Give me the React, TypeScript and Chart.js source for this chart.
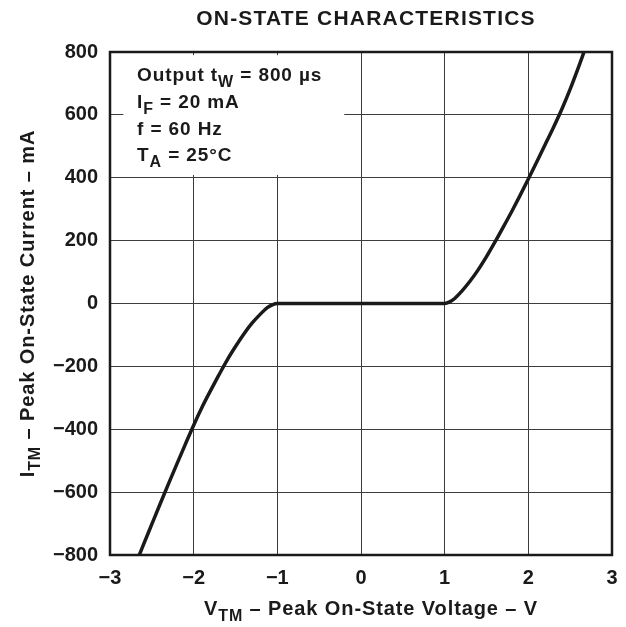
import React, { useEffect, useRef } from "react";
import { Chart, registerables } from "chart.js";

Chart.register(...registerables);

// Reverse-branch (negative) and forward-branch (positive) readings
const VOLTAGE_NEG = [-2.65, -2.6, -2.5, -2.4, -2.3, -2.2, -2.1, -2.0, -1.9, -1.8, -1.7, -1.6, -1.5, -1.4, -1.3, -1.2, -1.12, -1.06, -1.0];
const CURRENT_NEG = [-800, -767, -702, -637, -573, -510, -448, -387, -330, -278, -228, -180, -137, -97, -62, -33, -13, -4, 0];
const VOLTAGE_POS = [1.0, 1.06, 1.12, 1.2, 1.3, 1.4, 1.5, 1.6, 1.7, 1.8, 1.9, 2.0, 2.1, 2.2, 2.3, 2.4, 2.5, 2.6, 2.665];
const CURRENT_POS = [0, 5, 16, 38, 70, 107, 149, 195, 243, 292, 343, 396, 450, 505, 560, 618, 682, 752, 800];

const X_TICKS = [-3, -2, -1, 0, 1, 2, 3];
const Y_TICKS = [-800, -600, -400, -200, 0, 200, 400, 600, 800];

const TITLE = "ON-STATE CHARACTERISTICS";
const FONT = "'Liberation Sans', Arial, Helvetica, sans-serif";
const INK = "#1a1a1a";

type Part = [string, boolean];

function setFont(ctx: CanvasRenderingContext2D, size: number, sub: boolean) {
  ctx.font = `bold ${sub ? Math.round(size * 0.82) : size}px ${FONT}`;
}

function richWidth(ctx: CanvasRenderingContext2D, parts: Part[], size: number) {
  let w = 0;
  for (const [t, sub] of parts) {
    setFont(ctx, size, sub);
    w += ctx.measureText(t).width;
  }
  return w;
}

function drawRich(
  ctx: CanvasRenderingContext2D,
  parts: Part[],
  x: number,
  y: number,
  size: number,
  align: "left" | "center",
  spacing: number
) {
  (ctx as any).letterSpacing = spacing + "px";
  const w = richWidth(ctx, parts, size);
  let cx = align === "center" ? x - w / 2 : x;
  ctx.textAlign = "left";
  ctx.textBaseline = "alphabetic";
  for (const [t, sub] of parts) {
    setFont(ctx, size, sub);
    ctx.fillText(t, cx, sub ? y + size * 0.3 : y);
    cx += ctx.measureText(t).width;
  }
  (ctx as any).letterSpacing = "0px";
}

const fmt = (v: number) => (v < 0 ? "\u2212" + Math.abs(v) : String(v));

export default function App() {
  const ref = useRef<HTMLCanvasElement | null>(null);

  useEffect(() => {
    if (!ref.current) return;
    const points = [
      ...VOLTAGE_NEG.map((v, i) => ({ x: v, y: CURRENT_NEG[i] })),
      ...VOLTAGE_POS.map((v, i) => ({ x: v, y: CURRENT_POS[i] })),
    ];

    const decor = {
      id: "decor",
      beforeDatasetsDraw(chart: any) {
        const { ctx, scales } = chart;
        const x0 = scales.x.getPixelForValue(-2.84);
        const x1 = scales.x.getPixelForValue(-0.2);
        const y0 = scales.y.getPixelForValue(790);
        const y1 = scales.y.getPixelForValue(409);
        ctx.save();
        ctx.fillStyle = "#ffffff";
        ctx.fillRect(x0, y0, x1 - x0, y1 - y0);
        ctx.restore();
      },
      afterDraw(chart: any) {
        const { ctx, chartArea } = chart;
        const { left, right, top, bottom } = chartArea;
        ctx.save();
        ctx.strokeStyle = INK;
        ctx.lineWidth = 2.5;
        ctx.strokeRect(left, top, right - left, bottom - top);

        ctx.fillStyle = INK;
        // title
        drawRich(ctx, [[TITLE, false]], (left + right) / 2 + 5, 25, 21, "center", 1.2);

        // annotation
        const ax = left + 27;
        drawRich(ctx, [["Output t", false], ["W", true], [" = 800 \u00b5s", false]], ax, 81, 19, "left", 0.9);
        drawRich(ctx, [["I", false], ["F", true], [" = 20 mA", false]], ax, 108, 19, "left", 0.9);
        drawRich(ctx, [["f = 60 Hz", false]], ax, 135, 19, "left", 0.9);
        drawRich(ctx, [["T", false], ["A", true], [" = 25\u00b0C", false]], ax, 161, 19, "left", 0.9);

        // x axis title
        drawRich(
          ctx,
          [["V", false], ["TM", true], [" \u2013 Peak On-State Voltage \u2013 V", false]],
          (left + right) / 2 + 10,
          615,
          20,
          "center",
          0.9
        );

        // y axis title
        ctx.translate(34, (top + bottom) / 2);
        ctx.rotate(-Math.PI / 2);
        drawRich(
          ctx,
          [["I", false], ["TM", true], [" \u2013 Peak On-State Current \u2013 mA", false]],
          0,
          0,
          20,
          "center",
          0.9
        );
        ctx.restore();
      },
    };

    const chart = new Chart(ref.current, {
      type: "scatter",
      data: {
        datasets: [
          {
            data: points,
            showLine: true,
            borderColor: INK,
            borderWidth: 3.5,
            pointRadius: 0,
            cubicInterpolationMode: "monotone",
          } as any,
        ],
      },
      options: {
        animation: false,
        responsive: false,
        events: [],
        layout: { padding: { top: 52, right: 14, left: 0, bottom: 0 } },
        plugins: { legend: { display: false }, tooltip: { enabled: false }, title: { display: false } },
        scales: {
          x: {
            type: "linear",
            min: -3,
            max: 3,
            afterBuildTicks: (s: any) => {
              s.ticks = X_TICKS.map((v) => ({ value: v }));
            },
            afterFit: (s: any) => {
              s.height = 72;
              s.paddingRight = 0;
              s.paddingLeft = 0;
            },
            ticks: {
              callback: (v: any) => fmt(Number(v)),
              font: { family: FONT, size: 20, weight: "bold" },
              color: INK,
              padding: 11,
              maxRotation: 0,
            },
            grid: { color: "#3c3c3c", lineWidth: 1, drawTicks: false },
            border: { display: true, color: INK, width: 2 },
          },
          y: {
            type: "linear",
            min: -800,
            max: 800,
            afterBuildTicks: (s: any) => {
              s.ticks = Y_TICKS.map((v) => ({ value: v }));
            },
            afterFit: (s: any) => {
              s.width = 110;
              s.paddingTop = 0;
              s.paddingBottom = 0;
            },
            ticks: {
              callback: (v: any) => fmt(Number(v)),
              font: { family: FONT, size: 20, weight: "bold" },
              color: INK,
              padding: 12,
            },
            grid: { color: "#3c3c3c", lineWidth: 1, drawTicks: false },
            border: { display: true, color: INK, width: 2 },
          },
        },
      },
      plugins: [decor],
    } as any);

    return () => chart.destroy();
  }, []);

  return (
    <div style={{ position: "absolute", left: 0, top: 0, width: 626, height: 627, background: "#fff" }}>
      <canvas ref={ref} width={626} height={627} style={{ width: 626, height: 627 }} />
    </div>
  );
}
